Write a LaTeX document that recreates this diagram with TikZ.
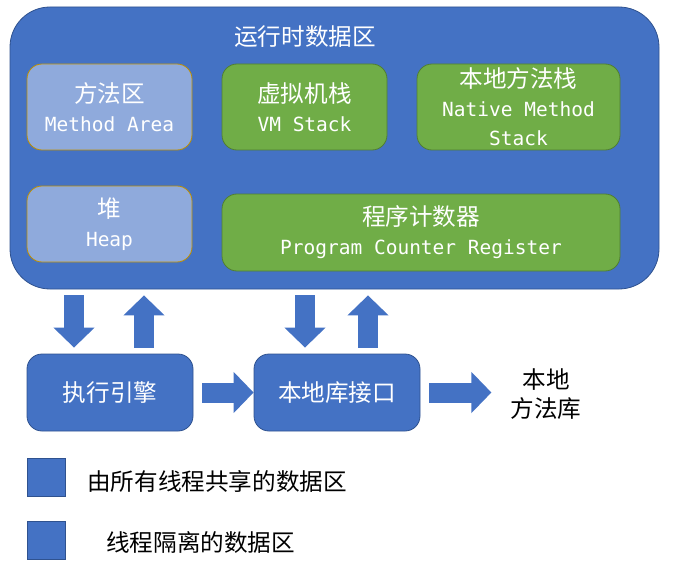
\documentclass[tikz,border=0pt]{standalone}
\usepackage{fontspec}
\newfontfamily\zhfont{Noto Sans CJK SC}
\newfontfamily\enfont{DejaVu Sans Mono}
\usepackage{tikz}
\usetikzlibrary{arrows.meta,calc}
\definecolor{rdablue}{HTML}{4472C4}
\definecolor{rdaline}{HTML}{2F528F}
\definecolor{sharedfill}{HTML}{8FAADC}
\definecolor{sharedline}{HTML}{BF9000}
\definecolor{privatefill}{HTML}{70AD47}
\definecolor{privateline}{HTML}{507E32}
\newcommand{\entext}[1]{{\enfont\fontsize{19.5}{29}\selectfont #1}}

\begin{document}
\begin{tikzpicture}[x=1pt,y=-1pt,
every node/.style={font=\zhfont\fontsize{23.6}{29}\selectfont},
area/.style={draw,rounded corners=15pt,line width=0.8pt,text=white,align=center,inner sep=0pt},
shared/.style={area,fill=sharedfill,draw=sharedline},
private/.style={area,fill=privatefill,draw=privateline},
unit/.style={area,fill=rdablue,draw=rdaline},
fat/.style={draw=rdablue,line width=20pt,-{Triangle[length=20pt,width=40pt]}},
key/.style={fill=rdablue,draw=rdaline,line width=0.6pt,minimum size=38pt,inner sep=0pt}]
\useasboundingbox (0,0) rectangle (680,567);

\node (rda) at (334.5,148) [unit,rounded corners=40pt,minimum width=649pt,minimum height=282pt] {};
\node (title) at (305,37) [text=white] {运行时数据区};
\node (method) at (109.5,107) [shared,minimum width=165pt,minimum height=86pt] {方法区\\\entext{Method Area}};
\node (vmstack) at (304.5,107) [private,minimum width=165pt,minimum height=86pt] {虚拟机栈\\\entext{VM Stack}};
\node (native) at (518.5,107) [private,minimum width=203pt,minimum height=86pt] {本地方法栈\\\entext{Native Method}\\\entext{Stack}};
\node (heap) at (109.5,224) [shared,minimum width=165pt,minimum height=76pt] {堆\\\entext{Heap}};
\node (pcr) at (421,232.5) [private,minimum width=398pt,minimum height=77pt] {程序计数器\\\entext{Program Counter Register}};

\node (engine) at (110,392.5) [unit,minimum width=166pt,minimum height=77pt] {执行引擎};
\node (nativeif) at (337,392.5) [unit,minimum width=166pt,minimum height=77pt] {本地库接口};
\node (nativelib) at (546,394) [align=center,inner sep=0pt] {本地\\方法库};

\draw[fat,shorten <=6pt,shorten >=6pt] ($(rda.south -| engine.north)+(-36,0)$) -- ($(engine.north)+(-36,0)$);
\draw[fat,shorten <=6pt,shorten >=6pt] ($(engine.north)+(34,0)$) -- ($(rda.south -| engine.north)+(34,0)$);
\draw[fat,shorten <=6pt,shorten >=6pt] ($(rda.south -| nativeif.north)+(-32,0)$) -- ($(nativeif.north)+(-32,0)$);
\draw[fat,shorten <=6pt,shorten >=6pt] ($(nativeif.north)+(31,0)$) -- ($(rda.south -| nativeif.north)+(31,0)$);
\draw[fat,shorten <=9pt] (engine.east) -- (nativeif.west);
\draw[fat,shorten <=9pt,shorten >=19pt] (nativeif.east) -- (nativeif.east -| nativelib.west);

\node (sharedkey) at (46.5,477.5) [key] {};
\node (sharedtxt) at (87,481) [anchor=west,inner sep=0pt] {由所有线程共享的数据区};
\node (privatekey) at (46.5,540) [key] {};
\node (privatetxt) at (106,542) [anchor=west,inner sep=0pt] {线程隔离的数据区};
\end{tikzpicture}
\end{document}
